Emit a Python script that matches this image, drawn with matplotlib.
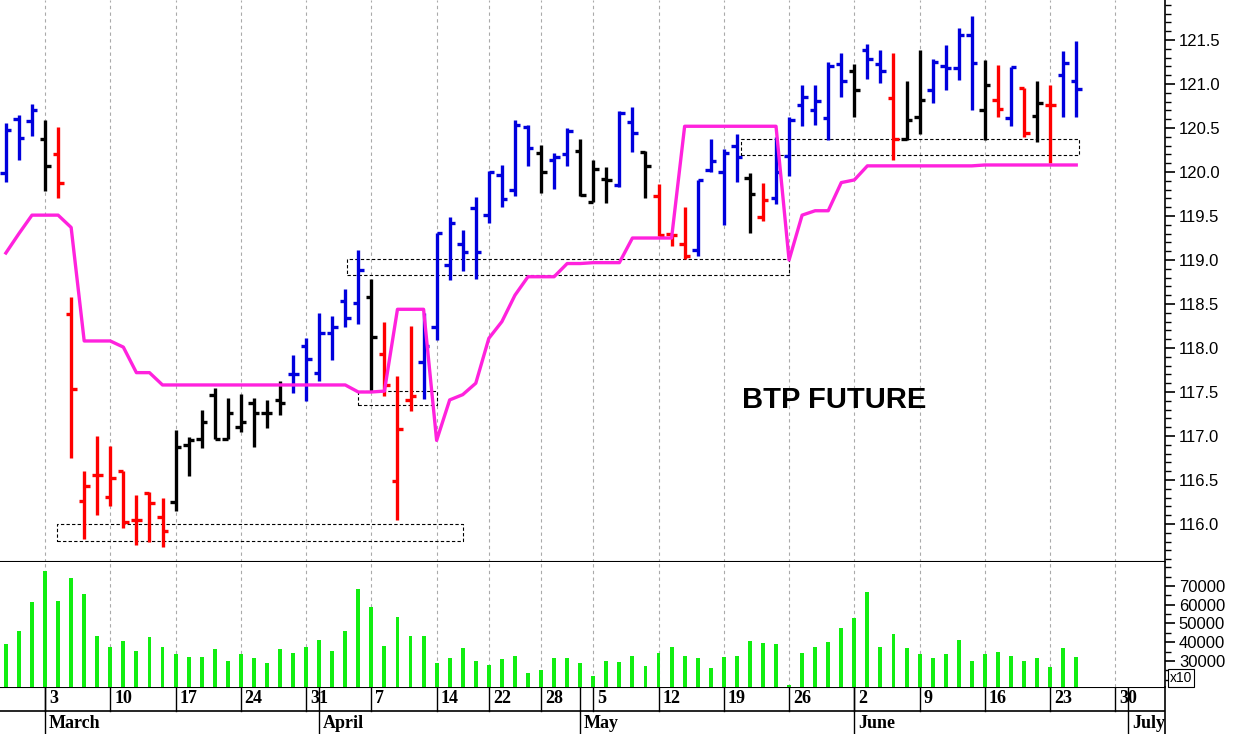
import matplotlib
matplotlib.use("Agg")
import matplotlib.pyplot as plt
from matplotlib.ticker import MultipleLocator

# trading days Feb 26 .. Jun 25 (2014), index 0..82
days = ["26", "27", "28",
        "3", "4", "5", "6", "7", "10", "11", "12", "13", "14",
        "17", "18", "19", "20", "21", "24", "25", "26", "27", "28", "31",
        "1", "2", "3", "4", "7", "8", "9", "10", "11", "14", "15", "16", "17",
        "22", "23", "24", "25", "28", "29", "30",
        "2", "5", "6", "7", "8", "9", "12", "13", "14", "15", "16",
        "19", "20", "21", "22", "23", "26", "27", "28", "29", "30",
        "2", "3", "4", "5", "6", "9", "10", "11", "12", "13",
        "16", "17", "18", "19", "20", "23", "24", "25"]

opens = [119.99, 120.60, 120.58, 120.38, 120.21, 118.39, 116.26, 116.56, 116.31, 116.60,
         116.05, 116.35, 116.08, 116.25, 116.90, 116.97, 117.47, 116.97, 117.10, 117.37,
         117.26, 117.41, 117.70, 118.02, 117.72, 118.17, 118.53, 118.51, 118.58, 117.93,
         116.49, 117.41, 117.84, 118.24, 118.94, 119.18, 119.59, 119.51, 119.97, 119.80,
         120.51, 120.22, 120.14, 120.21, 120.24, 119.66, 119.92, 119.85, 120.57, 120.23,
         119.73, 119.30, 119.18, 119.11, 120.02, 120.00, 120.30, 119.93, 119.49, 119.70,
         120.18, 120.76, 120.71, 120.61, 121.23, 121.15, 121.39, 121.23, 120.84, 120.38,
         120.63, 120.93, 121.20, 121.18, 121.56, 120.71, 120.82, 120.61, 120.96, 120.64,
         120.76, 121.10, 121.03]
highs = [120.56, 120.65, 120.77, 120.59, 120.51, 118.58, 116.60, 117.00, 116.89, 116.60,
         116.33, 116.36, 116.29, 117.07, 116.99, 117.30, 117.54, 117.43, 117.48, 117.43,
         117.41, 117.62, 117.92, 118.11, 118.40, 118.36, 118.67, 119.11, 118.78, 118.29,
         117.68, 118.25, 118.40, 119.31, 119.49, 119.34, 119.72, 120.01, 120.08, 120.59,
         120.53, 120.31, 120.22, 120.50, 120.38, 120.14, 120.06, 120.69, 120.74, 120.24,
         119.86, 119.30, 119.60, 119.91, 120.37, 120.26, 120.43, 119.99, 119.88, 120.40,
         120.63, 120.99, 120.99, 121.25, 121.35, 121.23, 121.46, 121.39, 121.35, 121.04,
         121.39, 121.29, 121.44, 121.64, 121.77, 121.27, 121.22, 121.19, 120.96, 121.03,
         120.99, 121.37, 121.49]
lows = [119.89, 120.14, 120.41, 119.78, 119.71, 116.75, 115.83, 116.10, 116.20, 115.96,
        115.76, 115.79, 115.74, 116.15, 116.54, 116.86, 116.97, 116.97, 117.05, 116.88,
        117.09, 117.24, 117.49, 117.40, 117.62, 117.86, 118.24, 118.27, 117.51, 117.45,
        116.05, 117.28, 117.42, 118.09, 118.77, 118.87, 118.78, 119.42, 119.60, 119.73,
        120.07, 119.76, 119.81, 120.07, 119.73, 119.66, 119.65, 119.83, 120.23, 119.71,
        119.27, 119.16, 119.01, 119.05, 120.00, 119.40, 119.89, 119.31, 119.44, 119.64,
        119.95, 120.52, 120.53, 120.36, 120.85, 120.62, 121.06, 121.01, 120.14, 120.36,
        120.43, 120.79, 120.93, 121.05, 120.71, 120.36, 120.63, 120.52, 120.40, 120.34,
        120.10, 120.62, 120.63]
closes = [120.48, 120.39, 120.71, 120.07, 119.87, 117.53, 116.43, 116.56, 116.52, 116.02,
          116.04, 116.24, 115.92, 116.88, 116.96, 117.16, 116.97, 117.26, 117.16, 117.26,
          117.26, 117.38, 117.70, 117.87, 118.17, 118.24, 118.34, 118.89, 118.12, 117.58,
          117.08, 117.45, 118.02, 119.31, 119.42, 119.09, 119.09, 120.00, 119.69, 120.53,
          120.27, 120.00, 120.17, 120.47, 119.74, 120.03, 119.91, 120.67, 120.44, 120.07,
          119.28, 119.28, 119.04, 119.91, 120.12, 120.22, 120.17, 119.75, 119.68, 120.00,
          120.59, 120.85, 120.81, 121.20, 121.03, 120.93, 121.29, 121.15, 120.38, 120.59,
          120.82, 121.25, 121.18, 121.56, 121.24, 120.99, 120.72, 121.19, 120.44, 120.79,
          120.76, 121.24, 120.94]
# B = blue, K = black, R = red
bar_colors = list("BBBKRRRRRRRRRKKKKKKKKKBBBBBBKRRRBBBBBBBBBKBBKKKBBKRRRBBBBKRBBBBBBKBBRKKBBBBKRBRKRBB")

stop_line = [119.08, 119.30, 119.51, 119.51, 119.51, 119.37, 118.08, 118.08, 118.08, 118.01,
             117.72, 117.72, 117.58, 117.58, 117.58, 117.58, 117.58, 117.58, 117.58, 117.58,
             117.58, 117.58, 117.58, 117.58, 117.58, 117.58, 117.58, 117.50, 117.50, 117.51,
             118.44, 118.44, 118.44, 116.95, 117.41, 117.47, 117.60, 118.11, 118.30, 118.60,
             118.81, 118.81, 118.81, 118.96, 118.96, 118.97, 118.97, 118.97, 119.25, 119.25,
             119.25, 119.25, 120.52, 120.52, 120.52, 120.52, 120.52, 120.52, 120.52, 120.52,
             119.00, 119.51, 119.56, 119.56, 119.88, 119.91, 120.07, 120.07, 120.07, 120.07,
             120.07, 120.07, 120.07, 120.07, 120.07, 120.08, 120.08, 120.08, 120.08, 120.08,
             120.08, 120.08, 120.08]

volume = [38900, 46000, 61300, 78000, 62000, 74000, 65700, 43500, 37300, 40700,
          35300, 42600, 37300, 33500, 32000, 32000, 36200, 30000, 33500, 31400,
          29100, 36200, 34400, 37300, 41200, 35300, 46000, 68200, 58600, 38200,
          53300, 43500, 43500, 28800, 31400, 36800, 30000, 27900, 30900, 32800,
          23400, 25200, 31400, 31400, 29100, 22200, 30200, 29400, 32800, 27300,
          34400, 37300, 32800, 31400, 26100, 32000, 32800, 40700, 39800, 38900,
          17200, 34400, 37300, 40000, 47400, 53100, 66600, 37300, 44200, 36800,
          33500, 31400, 33500, 41200, 30200, 33500, 34600, 32800, 30000, 31400,
          26600, 36800, 32000]

# dashed boxes: (first index, last index, low, high)
boxes = [(3.9, 35.0, 115.81, 116.00),
         (26.1, 60.0, 118.83, 119.01),
         (27.0, 33.0, 117.35, 117.51),
         (56.3, 82.2, 120.19, 120.38)]

week_labels = ["3", "10", "17", "24", "31", "7", "14", "22", "28", "5",
               "12", "19", "26", "2", "9", "16", "23", "30"]
week_pos = [3, 8, 13, 18, 23, 28, 33, 37, 41, 45, 50, 55, 60, 65, 70, 75, 80, 85]
months = ["March", "April", "May", "June", "July"]
month_pos = [3, 24, 44, 65, 86]

cmap = {"B": "#0000dd", "K": "black", "R": "#ff0000"}
W, H = 1236, 734
fig = plt.figure(figsize=(W / 100, H / 100), dpi=100)
x0, x1 = -0.45, 88.8

def fax(l, t, r, b):
    return fig.add_axes([l / W, 1 - b / H, (r - l) / W, (b - t) / H])

ax = fax(0, 0, 1165, 562)
vax = fax(0, 562, 1165, 687)
dax = fax(0, 687, 1165, 734)

n = len(opens)
idx = list(range(n))
cols = [cmap[c] for c in bar_colors]
ax.vlines(idx, lows, highs, colors=cols, lw=2.4)
ax.hlines(opens, [i - 0.42 for i in idx], idx, colors=cols, lw=2.4)
ax.hlines(closes, idx, [i + 0.42 for i in idx], colors=cols, lw=2.4)
ax.plot(idx, stop_line, color="#ff22dd", lw=2.4, zorder=3)
for a, b, lo, hi in boxes:
    ax.plot([a, b, b, a, a], [lo, lo, hi, hi, lo], color="black", lw=0.8,
            ls=(0, (3, 2)), zorder=1)
ax.text(56.4, 117.41, "BTP FUTURE", fontsize=21, fontweight="bold",
        family="Liberation Sans", va="center", ha="left")

ax.set_xlim(x0, x1)
ax.set_ylim(115.568, 121.955)
ax.yaxis.tick_right()
ax.yaxis.set_major_locator(MultipleLocator(0.5))
ax.yaxis.set_minor_locator(MultipleLocator(0.1))
ax.yaxis.set_major_formatter(matplotlib.ticker.FormatStrFormatter("%.1f"))

vax.bar(idx, volume, width=0.3, color="#11ee11", bottom=0)
vax.set_xlim(x0, x1)
vax.set_ylim(16100, 82800)
vax.yaxis.tick_right()
vax.yaxis.set_major_locator(matplotlib.ticker.FixedLocator([30000, 40000, 50000, 60000, 70000]))
vax.yaxis.set_minor_locator(MultipleLocator(5000))

for a in (ax, vax):
    for s in ("left", "top", "bottom"):
        a.spines[s].set_visible(False)
    a.spines["right"].set_linewidth(1.2)
    a.set_xticks([])
    for p in week_pos:
        a.axvline(p, color="#aaaaaa", lw=0.8, ls=(0, (3, 3)), zorder=0)
    a.tick_params(axis="y", which="major", length=7, width=1.2, labelsize=12, pad=3)
    a.tick_params(axis="y", which="minor", length=4, width=1)
    for lab in a.get_yticklabels():
        lab.set_family("Liberation Sans")
ax.axhline(115.568, color="black", lw=1.5)

dax.set_xlim(x0, x1)
dax.set_ylim(0, 2)
dax.axis("off")
dax.axhline(2, color="black", lw=1.5)
dax.axhline(1, color="black", lw=1.2)
for p, t in zip(week_pos, week_labels):
    dax.plot([p, p], [1, 2], color="black", lw=1)
    dax.text(p + 0.3, 1.5, t, fontsize=13, fontweight="bold", family="Liberation Serif",
             va="center", ha="left")
for p, t in zip(month_pos, months):
    dax.plot([p, p], [0, 2], color="black", lw=1)
    dax.text(p + 0.3, 0.45, t, fontsize=13, fontweight="bold", family="Liberation Serif",
             va="center", ha="left", clip_on=True)
dax.plot([x1, x1], [0, 2], color="black", lw=1.2, clip_on=False)

fig.text(1170 / W, 1 - 678 / H, "x10", fontsize=10, family="Liberation Sans", va="center",
         ha="left", bbox=dict(boxstyle="square,pad=0.15", fc="white", ec="black", lw=0.8))

fig.savefig("out.png", dpi=100)
